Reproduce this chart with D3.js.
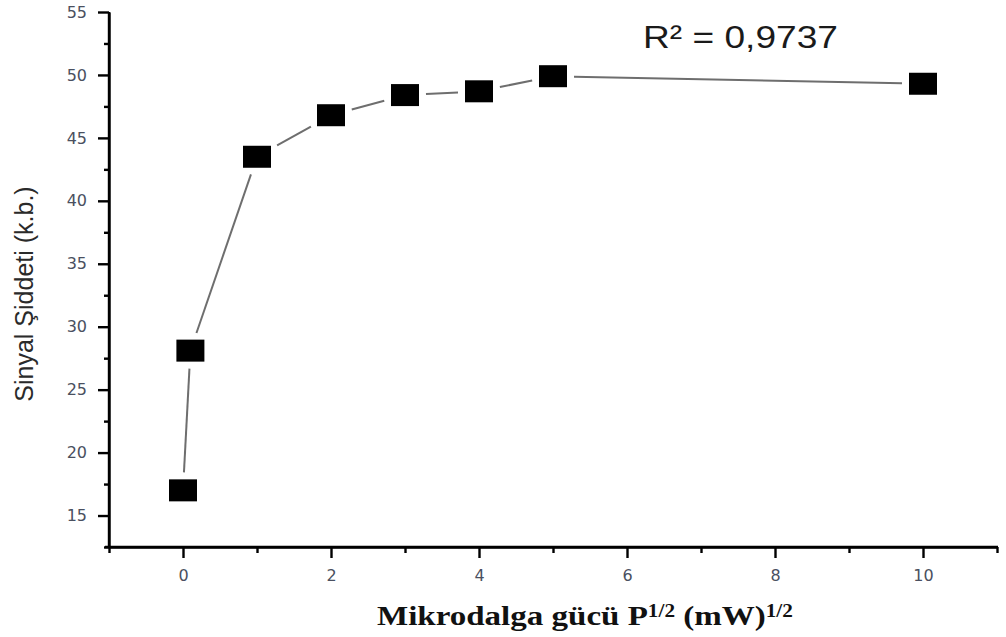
<!DOCTYPE html>
<html>
<head>
<meta charset="utf-8">
<script src="https://cdn.jsdelivr.net/npm/d3@7"></script>
<style>
  html, body { margin: 0; padding: 0; background: #fff; }
  svg { display: block; }
</style>
</head>
<body>
<svg id="chart" width="1006" height="637"></svg>
<script>
// Microwave power (square root) vs. signal intensity
const powerRoot = [0, 0.1, 1, 2, 3, 4, 5, 10];
const signal    = [17.0, 28.1, 43.5, 46.8, 48.4, 48.7, 49.9, 49.3];

const yMajorTicks = [15, 20, 25, 30, 35, 40, 45, 50, 55];
const yMinorTicks = [12.5, 17.5, 22.5, 27.5, 32.5, 37.5, 42.5, 47.5, 52.5];
const xMajorTicks = [0, 2, 4, 6, 8, 10];
const xMinorTicks = [-1, 1, 3, 5, 7, 9, 11];

const rSquaredLabel = "R² = 0,9737";
const yTitle = "Sinyal Şiddeti (k.b.)";

const svg = d3.select("#chart");

const x = d3.scaleLinear().domain([-1, 11]).range([109, 997]);
const y = d3.scaleLinear().domain([12.5, 55]).range([547, 12]);

const axisColor = "#000";
const labelColor = "#4a5060";

// Stretch a text element horizontally so it spans the given width
function fitWidth(sel, width) {
  const node = sel.node();
  const bb = node.getBBox();
  const k = width / bb.width;
  const x0 = bb.x;
  sel.attr("transform", `translate(${x0},0) scale(${k},1) translate(${-x0},0)`);
}

// ---- Y axis ----
const yAxisMajor = svg.append("g")
  .attr("transform", `translate(${x(-1)},0)`)
  .call(d3.axisLeft(y).tickValues(yMajorTicks).tickSize(11).tickSizeOuter(0).tickPadding(11));
const yAxisMinor = svg.append("g")
  .attr("transform", `translate(${x(-1)},0)`)
  .call(d3.axisLeft(y).tickValues(yMinorTicks).tickSize(5).tickSizeOuter(0).tickFormat(""));

// ---- X axis ----
const xAxisMajor = svg.append("g")
  .attr("transform", `translate(0,${y(12.5)})`)
  .call(d3.axisBottom(x).tickValues(xMajorTicks).tickSize(11).tickSizeOuter(0).tickPadding(12));
const xAxisMinor = svg.append("g")
  .attr("transform", `translate(0,${y(12.5)})`)
  .call(d3.axisBottom(x).tickValues(xMinorTicks).tickSize(6).tickSizeOuter(0).tickFormat(""));

[yAxisMajor, yAxisMinor, xAxisMajor, xAxisMinor].forEach(g => {
  g.select(".domain").attr("stroke", axisColor).attr("stroke-width", 2.4);
  g.selectAll(".tick line").attr("stroke", axisColor).attr("stroke-width", 2.4);
  g.selectAll(".tick text")
    .attr("fill", labelColor)
    .style("font-family", "'DejaVu Sans', Verdana, sans-serif")
    .style("font-size", "16px");
});
// extend the domain line a touch past the axes' corner
yAxisMajor.select(".domain").attr("d", `M0,${y(55)}V${y(12.5) + 1}`);
xAxisMajor.select(".domain").attr("d", `M${x(-1) - 4},0H${x(11) + 1}`);

// ---- Connecting line with gaps at the symbols ----
const pts = powerRoot.map((v, i) => [x(v), y(signal[i])]);
const halfW = 14, halfH = 11, gap = 7;
function exitDist(dx, dy) {
  const ax = Math.abs(dx), ay = Math.abs(dy);
  const tx = ax > 1e-9 ? halfW / ax : Infinity;
  const ty = ay > 1e-9 ? halfH / ay : Infinity;
  return Math.min(tx, ty);
}
const segments = [];
for (let i = 0; i < pts.length - 1; i++) {
  const [x1, y1] = pts[i], [x2, y2] = pts[i + 1];
  const len = Math.hypot(x2 - x1, y2 - y1);
  const ux = (x2 - x1) / len, uy = (y2 - y1) / len;
  const d = exitDist(ux, uy) + gap;
  if (len > 2 * d) {
    segments.push([[x1 + ux * d, y1 + uy * d], [x2 - ux * d, y2 - uy * d]]);
  }
}
svg.append("g").selectAll("line").data(segments).join("line")
  .attr("x1", d => d[0][0]).attr("y1", d => d[0][1])
  .attr("x2", d => d[1][0]).attr("y2", d => d[1][1])
  .attr("stroke", "#6e6e6e").attr("stroke-width", 2);

// ---- Square symbols ----
svg.append("g").selectAll("rect").data(powerRoot).join("rect")
  .attr("x", (d) => x(d) - halfW)
  .attr("y", (d, i) => y(signal[i]) - halfH)
  .attr("width", halfW * 2)
  .attr("height", halfH * 2)
  .attr("fill", "#000");

// ---- R² annotation ----
const r2 = svg.append("text")
  .attr("x", 643).attr("y", 48)
  .attr("fill", "#1a1a1a")
  .style("font-family", "'Liberation Sans', Arial, sans-serif")
  .style("font-size", "32px")
  .text(rSquaredLabel);
fitWidth(r2, 195);

// ---- Y axis title ----
svg.append("text")
  .attr("transform", "translate(33,294) rotate(-90)")
  .attr("text-anchor", "middle")
  .attr("fill", "#2a2a2a")
  .style("font-family", "'Liberation Sans', Arial, sans-serif")
  .style("font-size", "25px")
  .text(yTitle);

// ---- X axis title ----
const xt = svg.append("text")
  .attr("x", 377).attr("y", 625)
  .attr("fill", "#111")
  .style("font-family", "'Liberation Serif', 'Times New Roman', serif")
  .style("font-weight", "bold")
  .style("font-size", "28px");
xt.append("tspan").text("Mikrodalga gücü P");
xt.append("tspan").attr("dy", -8).style("font-size", "18px").text("1/2");
xt.append("tspan").attr("dy", 8).text(" (mW)");
xt.append("tspan").attr("dy", -8).style("font-size", "18px").text("1/2");
fitWidth(xt, 416);
</script>
</body>
</html>
